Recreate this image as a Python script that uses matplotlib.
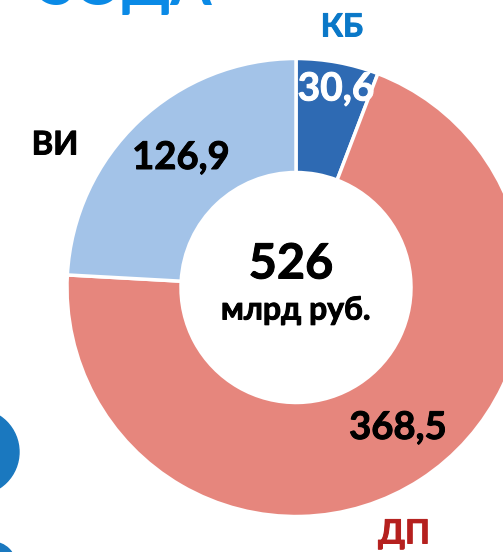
"""Donut chart of the 526 bn rouble total by source, with clipped slide heading."""

import matplotlib
matplotlib.use("Agg")
import matplotlib.pyplot as plt
import matplotlib.patheffects as pe
from matplotlib.patches import Circle

categories = ["КБ", "ДП", "ВИ"]
values = [30.6, 368.5, 126.9]
value_labels = ["30,6", "368,5", "126,9"]
slice_colors = ["#2e6ab3", "#e6867d", "#a3c3e8"]
label_colors = ["#0a78c8", "#b5201e", "#000000"]
value_colors = ["#ffffff", "#000000", "#000000"]
total_label = "526"
unit_label = "млрд руб."
heading = "ЗОДА"

W, H = 503, 552
plt.rcParams["font.family"] = ["Lato", "DejaVu Sans"]

fig = plt.figure(figsize=(W / 100, H / 100), dpi=100)
ax = fig.add_axes([0, 0, 1, 1])


def py(y):
    # picture pixels run downward, the axes run upward
    return H - y


def label(x, y, s, color, size, stroke=0.7):
    # the source font is heavier than Lato Bold, so thicken it a little
    t = ax.text(x, py(y), s, color=color, fontsize=size, fontweight="bold",
                ha="center", va="center")
    t.set_path_effects([pe.withStroke(linewidth=stroke, foreground=color)])
    return t


ax.pie(
    values, colors=slice_colors, startangle=90, counterclock=False,
    center=(296, py(287.5)), radius=229, frame=True,
    wedgeprops=dict(width=114, edgecolor="white", linewidth=2.5),
)
ax.set_xlim(0, W)
ax.set_ylim(0, H)
ax.set_aspect("equal")
ax.axis("off")

# slide decoration cut off by the crop
ax.add_patch(Circle((-24, py(452)), 43, color="#1a78bf"))
ax.add_patch(Circle((-8, py(566)), 24, color="#1a78bf"))

ax.text(126, py(5), heading, color="#0a8ae6", fontsize=43, fontweight="bold",
        ha="center", va="baseline")

label(342, 27, categories[0], label_colors[0], 23)
label(404, 534, categories[1], label_colors[1], 24)
label(55, 145, categories[2], label_colors[2], 23.5)

label(336, 89, value_labels[0], value_colors[0], 28)
label(398, 428, value_labels[1], value_colors[1], 27.5)
label(181, 158, value_labels[2], value_colors[2], 27.5)

label(291, 264, total_label, "black", 35)
label(296, 310, unit_label, "black", 23)

fig.savefig("out.png", dpi=100)
